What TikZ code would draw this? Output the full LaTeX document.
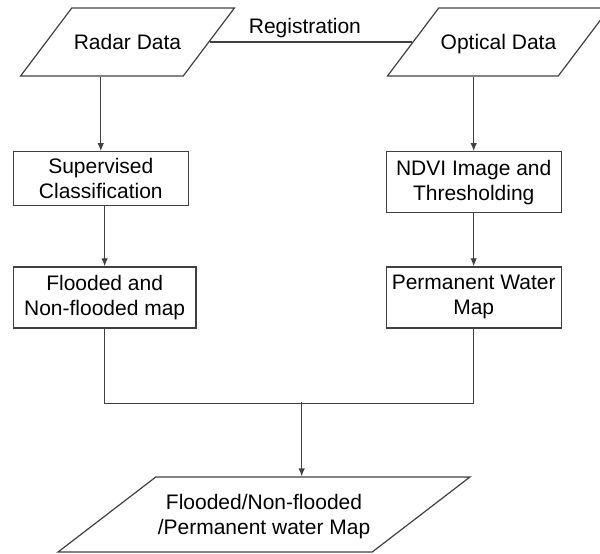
\documentclass[tikz,border=0pt]{standalone}
\usepackage{fontspec}
\setmainfont{Liberation Sans}
\usetikzlibrary{shapes.geometric,arrows.meta,positioning}

\begin{document}
\begin{tikzpicture}[x=1pt,y=1pt,font=\fontsize{21}{25}\selectfont,
  datashape/.style={trapezium, trapezium stretches body, draw=black!75, line width=1.2pt, align=center, inner xsep=2pt},
  procbox/.style={rectangle, draw=black!75, line width=1.2pt, align=center, inner sep=2pt},
  flowline/.style={draw=black!75, line width=1.2pt},
  flowarrow/.style={flowline, -{Latex[length=8pt,width=6.5pt]}}]

\useasboundingbox (0,0) rectangle (600,-554);

% input data
\node[datashape, trapezium left angle=53, trapezium right angle=127, text height=15pt, text depth=0pt, inner ysep=26.5pt, minimum width=211pt](radar) at (127.5,-42){Radar Data};
\node[datashape, trapezium left angle=53, trapezium right angle=127, text height=15pt, text depth=0pt, inner ysep=26.5pt, minimum width=211pt](optical) at (498.5,-42){Optical Data};

\draw[flowline] (radar.right side) -- node[pos=0.47, above]{Registration} (optical.left side);

% radar branch
\node[procbox, minimum width=175pt, minimum height=53.6pt](superv) at (100.8,-178.5){Supervised\\Classification};
\node[procbox, below=60.4pt of superv.south west, anchor=north west, minimum width=182.7pt, minimum height=61pt](flooded){Flooded and\\Non-flooded map};

% optical branch
\node[procbox, right=196.7pt of superv.north east, anchor=north west, minimum width=175pt, minimum height=61pt](ndvi){NDVI Image and\\Thresholding};
\node[procbox, below=53pt of ndvi, minimum width=175pt, minimum height=61pt](perm){Permanent Water\\Map};

\draw[flowarrow] (radar.south -| superv.north) -- (superv.north);
\draw[flowarrow] (superv.south -| flooded.north) -- (flooded.north);
\draw[flowarrow] (optical.south -| ndvi.north) -- (ndvi.north);
\draw[flowarrow] (ndvi.south) -- (perm.north);

% merge
\node[datashape, trapezium left angle=37.5, trapezium right angle=142.5, text height=40pt, text depth=0pt, inner ysep=17.5pt, minimum width=394pt](result) at (264,-514.5){Flooded/Non-flooded\\/Permanent water Map};

\coordinate[below=75.3pt of flooded] (fjoin);
\coordinate (pjoin) at (perm.south |- fjoin);
\coordinate (drop) at (301.7,-402);

\draw[flowline] (flooded.south) -- (fjoin) -- (pjoin) -- (perm.south);
\draw[flowarrow] (drop) -- (drop |- result.top side);

\end{tikzpicture}
\end{document}
